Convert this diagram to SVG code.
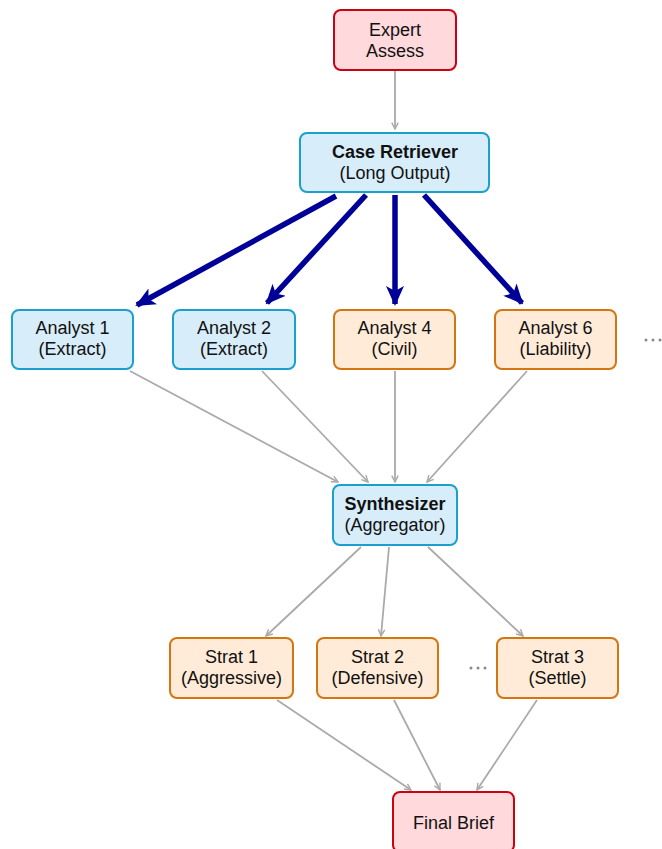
<svg xmlns="http://www.w3.org/2000/svg" width="662" height="849" viewBox="0 0 662 849">
<style>
text{font-family:"Liberation Sans",Arial,sans-serif;font-size:18px;fill:#111;text-anchor:middle}
.b{font-weight:bold}
.blue rect{fill:#d7edfa;stroke:#1aa0cf;stroke-width:2}
.orange rect{fill:#ffebd7;stroke:#d47510;stroke-width:2}
.red rect{fill:#ffd9dc;stroke:#cc0011;stroke-width:2}
.g{stroke:#aaa;stroke-width:1.8;fill:none;marker-end:url(#ga)}
.t{stroke:#000099;stroke-width:5.5;fill:none;marker-end:url(#ba)}
.dots{fill:#888}
</style>
<defs>
<marker id="ga" viewBox="0 0 10 10" refX="9" refY="5" markerWidth="8" markerHeight="8" markerUnits="userSpaceOnUse" orient="auto">
<path d="M1,1 L9,5 L1,9" fill="none" stroke="#aaa" stroke-width="1.8"/>
</marker>
<marker id="ba" viewBox="0 0 10 10" refX="9" refY="5" markerWidth="20" markerHeight="20" markerUnits="userSpaceOnUse" orient="auto">
<path d="M0,0.5 L10,5 L0,9.5 L2.5,5 Z" fill="#000099"/>
</marker>
</defs>
<g id="connectors">
<path class="g" d="M395,71 L395,129"/>
<path class="t" d="M336,196 L137,305"/>
<path class="t" d="M366,195 L267,303"/>
<path class="t" d="M395,195 L395,304"/>
<path class="t" d="M424,195 L522,303"/>
<path class="g" d="M130,371 L338,482"/>
<path class="g" d="M262,371 L368,482"/>
<path class="g" d="M395,371 L395,482"/>
<path class="g" d="M527,371 L427,482"/>
<path class="g" d="M361,547 L266,636"/>
<path class="g" d="M389,547 L381,636"/>
<path class="g" d="M428,547 L523,636"/>
<path class="g" d="M277,700 L411,790"/>
<path class="g" d="M394,700 L440,790"/>
<path class="g" d="M537,700 L477,790"/>
</g>
<g id="expert" class="red"><rect x="334" y="10" width="122" height="60" rx="7"/><text x="395" y="36">Expert</text><text x="395" y="57">Assess</text></g>
<g id="retriever" class="blue"><rect x="300" y="133" width="189" height="59" rx="7"/><text x="395" y="158" class="b">Case Retriever</text><text x="395" y="179">(Long Output)</text></g>
<g id="analyst1" class="blue"><rect x="12" y="310" width="121" height="59" rx="7"/><text x="72.5" y="334">Analyst 1</text><text x="72.5" y="355">(Extract)</text></g>
<g id="analyst2" class="blue"><rect x="173" y="310" width="122" height="59" rx="7"/><text x="234" y="334">Analyst 2</text><text x="234" y="355">(Extract)</text></g>
<g id="analyst4" class="orange"><rect x="334" y="310" width="121" height="59" rx="7"/><text x="394.5" y="334">Analyst 4</text><text x="394.5" y="355">(Civil)</text></g>
<g id="analyst6" class="orange"><rect x="495" y="310" width="121" height="59" rx="7"/><text x="555.5" y="334">Analyst 6</text><text x="555.5" y="355">(Liability)</text></g>
<g id="dots1" class="dots"><circle cx="646" cy="340" r="1.5"/><circle cx="653" cy="340" r="1.5"/><circle cx="660" cy="340" r="1.5"/></g>
<g id="synth" class="blue"><rect x="333" y="485" width="124" height="60" rx="7"/><text x="395" y="510" class="b">Synthesizer</text><text x="395" y="531">(Aggregator)</text></g>
<g id="strat1" class="orange"><rect x="170" y="638" width="123" height="60" rx="7"/><text x="231.5" y="663">Strat 1</text><text x="231.5" y="684">(Aggressive)</text></g>
<g id="strat2" class="orange"><rect x="317" y="638" width="121" height="60" rx="7"/><text x="377.5" y="663">Strat 2</text><text x="377.5" y="684">(Defensive)</text></g>
<g id="dots2" class="dots"><circle cx="471" cy="668" r="1.5"/><circle cx="478" cy="668" r="1.5"/><circle cx="485" cy="668" r="1.5"/></g>
<g id="strat3" class="orange"><rect x="497" y="638" width="121" height="60" rx="7"/><text x="557.5" y="663">Strat 3</text><text x="557.5" y="684">(Settle)</text></g>
<g id="final" class="red"><rect x="393" y="792" width="121" height="60" rx="7"/><text x="453.5" y="829">Final Brief</text></g>
</svg>
